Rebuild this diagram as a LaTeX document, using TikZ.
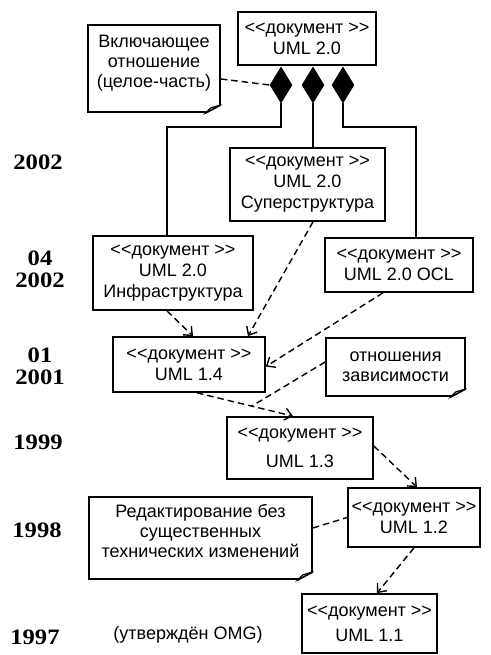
\documentclass[tikz,border=0pt]{standalone}
\usepackage{fontspec}
\setmainfont{Liberation Sans}
\newfontfamily\yearfont{Liberation Serif}[FakeStretch=1.12]
\usetikzlibrary{arrows.meta,shapes.geometric,calc}

\tikzset{
  docbox/.style={draw=black, line width=1.7pt, inner sep=0pt, align=center,
    font=\fontsize{18}{21}\selectfont},
  notebox/.style={draw=black, line width=1.7pt, inner sep=0pt, align=center,
    font=\fontsize{18}{20}\selectfont},
  plaintext/.style={inner sep=0pt, font=\fontsize{18}{20}\selectfont},
  foldline/.style={draw=black, line width=1.7pt},
  notefold/.style={draw=black, line width=1.1pt, fill=gray!45},
  yearlabel/.style={align=center, inner sep=0pt,
    font=\yearfont\bfseries\fontsize{22}{22}\selectfont},
  partdiamond/.style={diamond, fill=black, draw=black, line width=0.6pt,
    inner sep=0pt, minimum width=22pt, minimum height=36pt},
  partline/.style={draw=black, line width=1.6pt},
  depline/.style={draw=black, line width=1.4pt, dash pattern=on 6.5pt off 4pt},
  deparrow/.style={depline, -{Straight Barb[length=7pt,width=12pt]}},
}

\newcommand\doc{<\kern0pt<документ >\kern0pt>}
% invisible strut that lowers the bottom of a text block
\newcommand\lowstrut[1]{\rule[-#1]{0pt}{0pt}}

\begin{document}
\begin{tikzpicture}[x=1pt,y=-1pt]
\useasboundingbox (0,0) rectangle (490,655);

% documents
\node[docbox, minimum width=138pt, minimum height=53pt] (uml20) at (307,38.5) {\doc\\UML 2.0};
\node[docbox, minimum width=155pt, minimum height=73pt] (super) at (307.5,184.5) {\doc\\UML 2.0\\Суперструктура};
\node[docbox, minimum width=160pt, minimum height=74pt] (infra) at (173,273) {\doc\\UML 2.0\\Инфраструктура};
\node[docbox, minimum width=148pt, minimum height=54pt] (ocl) at (399,265) {\doc\\UML 2.0 OCL};
\node[docbox, minimum width=152pt, minimum height=55pt] (uml14) at (189,364.5) {\doc\\UML 1.4};
\node[docbox, minimum width=146pt, minimum height=62pt] (uml13) at (300,448) {\doc\\[8pt]UML 1.3};
\node[docbox, minimum width=132pt, minimum height=59pt] (uml12) at (414,517.5) {\doc\\UML 1.2};
\node[docbox, minimum width=135pt, minimum height=59pt] (uml11) at (369.5,623.5) {\doc\\[4pt]UML 1.1};

% notes, each with a folded bottom-right corner
\node[notebox, minimum width=132pt, minimum height=87pt] (incl) at (154,68.5)
  {Включающее\\отношение\\(целое-часть)\lowstrut{15pt}};
\node[notebox, minimum width=139pt, minimum height=58pt] (depnote) at (395.5,367)
  {отношения\\зависимости};
\node[notebox, minimum width=223pt, minimum height=82pt] (edit) at (200.5,538)
  {Редактирование без\\существенных\\технических изменений\lowstrut{14pt}};
\foreach \n in {incl,depnote,edit}{
  \fill[white] ([xshift=-15pt,yshift=-0.1pt]\n.south east) -- ([xshift=2pt,yshift=-2pt]\n.south east)
    -- ([xshift=0.1pt,yshift=8pt]\n.south east) -- cycle;
  \draw[foldline, line cap=round] ([yshift=8pt]\n.south east) -- ([xshift=-15pt]\n.south east);
  \draw[notefold] ([yshift=8pt]\n.south east)
    -- ([xshift=-10pt,yshift=5pt]\n.south east)
    -- ([xshift=-15pt]\n.south east) -- cycle;
}

\node[plaintext] (omg) at (188,635) {(утверждён OMG)};

% years
\node[yearlabel] (y2002) at (38,162) {2002};
\node[yearlabel] (y0402) at (40,269) {04\\2002};
\node[yearlabel] (y0101) at (40,366) {01\\2001};
\node[yearlabel] (y1999) at (38,442) {1999};
\node[yearlabel] (y1998) at (37,530) {1998};
\node[yearlabel] (y1997) at (35,637) {1997};

% composition
\node[partdiamond] (d1) at (281,85) {};
\node[partdiamond] (d2) at (313,85) {};
\node[partdiamond] (d3) at (343,85) {};
\coordinate (hbar) at (0,127);
\draw[partline] (d1.south) -- (d1.south |- hbar) -| ([xshift=-6pt]infra.north);
\draw[partline] (d2.south) -- (d2.south |- super.north);
\draw[partline] (d3.south) -- (d3.south |- hbar) -| ([xshift=17pt]ocl.north);
\draw[depline] ([yshift=-10.5pt]incl.east) -- (d1.west);

% dependencies
\draw[deparrow] ([xshift=-6pt]infra.south) -- ([xshift=4pt]uml14.north);
\draw[deparrow] ([xshift=5.5pt]super.south) -- ([xshift=59pt]uml14.north);
\draw[deparrow] ([xshift=-16pt]ocl.south) -- ([yshift=-2pt]uml14.east);
\draw[deparrow] ([xshift=8pt]uml14.south) -- coordinate[pos=0.57] (join) ([xshift=-7pt]uml13.north);
\draw[depline] ([yshift=5pt]depnote.west) -- (join);
\draw[deparrow] ([yshift=2pt]uml13.east) -- ([xshift=3pt]uml12.north);
\draw[depline] ([yshift=10pt]edit.east) -- (uml12.west);
\draw[deparrow] (uml12.south) -- ([xshift=7.5pt]uml11.north);
\end{tikzpicture}
\end{document}
